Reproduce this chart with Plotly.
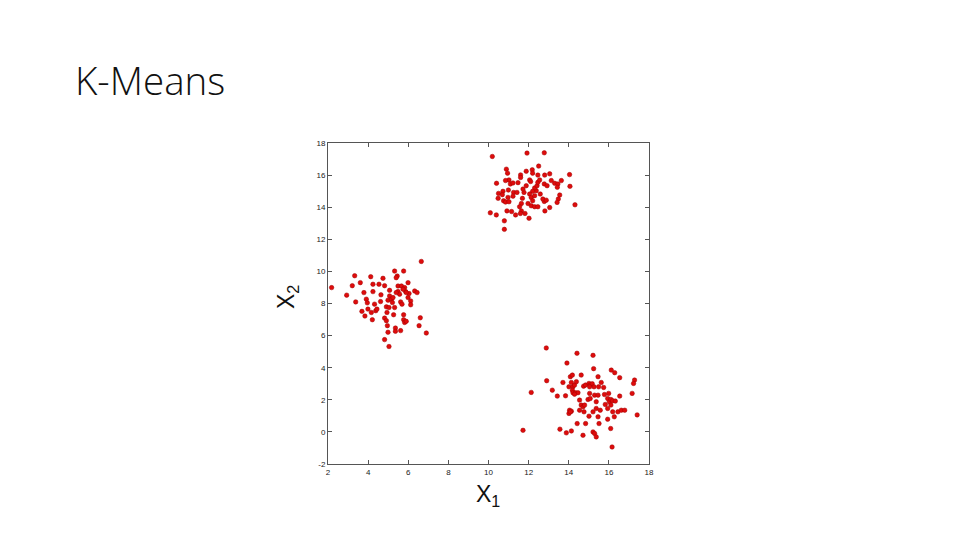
import plotly.graph_objects as go

# Top cluster
x_top = [10.19, 11.92, 12.78, 12.5, 10.89, 10.95, 10.4, 11.02, 10.85, 11.09, 11.22, 11.47, 11.6, 11.6, 11.88,
         12.18, 12.2, 12.05, 12.1, 12.46, 12.8, 13.05, 13.13, 12.78, 12.92, 13.3, 13.46, 13.63, 13.43, 14.04,
         14.06, 13.55, 13.48, 13.42, 14.31, 13.05, 12.81, 12.78, 12.71, 12.88, 12.58, 12.38, 12.3, 12.2, 12.05,
         12.13, 12.3, 12.2, 11.97, 12.13, 12.3, 12.46, 11.64, 11.55, 11.64, 11.82, 12.02, 11.59, 11.35, 11.15,
         10.92, 10.79, 10.79, 10.39, 10.09, 10.5, 10.48, 10.72, 10.69, 10.75, 10.85, 11.02, 10.97, 10.99, 11.25,
         11.42, 11.22, 11.69, 11.77, 11.88, 11.72, 12.42, 12.46, 12.55]
y_top = [17.16, 17.37, 17.39, 16.56, 16.37, 16.12, 15.49, 15.70, 15.66, 15.45, 15.51, 15.53, 16.01, 15.85, 16.24,
         16.33, 16.12, 15.7, 15.6, 16.0, 16.0, 16.08, 15.66, 15.45, 15.34, 15.49, 15.45, 15.66, 15.24, 16.03,
         15.30, 14.76, 14.51, 14.3, 14.15, 13.98, 13.77, 14.36, 14.51, 14.44, 14.82, 15.03, 15.2, 14.99, 14.82,
         14.61, 14.72, 14.4, 14.23, 14.09, 14.03, 14.03, 14.23, 14.03, 13.77, 13.61, 13.31, 13.61, 13.52, 13.73,
         13.77, 13.15, 12.62, 13.52, 13.65, 14.86, 14.55, 14.99, 14.78, 14.4, 14.32, 14.34, 14.61, 15.07, 14.92,
         14.92, 14.69, 14.55, 14.92, 15.34, 15.13, 15.34, 15.55, 15.7]

# Left cluster
x_left = [2.18, 2.93, 3.21, 3.33, 3.38, 3.61, 3.69, 3.79, 3.84, 3.91, 3.96, 3.99, 4.13, 4.21, 4.24, 4.24, 4.16,
          4.32, 4.38, 4.44, 4.54, 4.74, 4.64, 4.62, 4.82, 4.82, 4.91, 4.82, 4.96, 5.04, 4.99, 4.91, 4.94, 5.04,
          4.99, 5.07, 5.07, 5.16, 5.24, 5.21, 5.32, 5.27, 5.32, 5.45, 5.4, 5.49, 5.36, 5.36, 5.49, 5.62, 5.62,
          5.69, 5.66, 5.77, 5.82, 5.77, 5.77, 5.82, 5.9, 5.87, 5.99, 5.99, 6.04, 6.12, 6.12, 6.32, 6.44, 6.54,
          6.6, 6.65, 6.9, 5.74, 5.9, 5.57, 5.4]
y_left = [8.99, 8.52, 9.11, 9.73, 8.1, 9.3, 7.51, 8.68, 7.22, 8.27, 8.04, 7.65, 9.67, 6.99, 9.2, 8.74, 7.44,
          7.96, 7.55, 7.65, 9.2, 9.57, 8.54, 8.12, 9.11, 7.09, 6.93, 5.75, 6.62, 5.32, 6.21, 7.79, 7.44, 7.75,
          8.21, 8.47, 8.82, 8.27, 8.37, 8.06, 7.75, 7.3, 10.02, 9.71, 9.61, 9.09, 6.47, 6.27, 8.74, 8.1, 6.31,
          7.96, 9.09, 10.02, 8.99, 7.3, 6.99, 6.82, 6.89, 8.74, 9.3, 8.37, 8.62, 8.16, 7.92, 8.78, 8.68, 6.62,
          7.11, 10.62, 6.16, 8.89, 8.68, 8.58, 8.68]

# Bottom-right cluster
x_br = [12.88, 14.41, 15.21, 13.91, 15.24, 16.12, 16.29, 16.54, 17.28, 17.23, 12.9, 12.13, 13.18, 13.43, 13.71,
        13.84, 14.08, 14.18, 14.13, 14.01, 14.21, 14.29, 14.38, 14.62, 14.18, 14.21, 14.34, 14.46, 14.29, 14.74,
        14.84, 15.01, 15.07, 15.17, 15.26, 15.46, 15.62, 15.74, 15.49, 15.04, 14.54, 14.62, 14.71, 14.54, 14.76,
        14.96, 15.07, 15.29, 15.46, 15.37, 15.37, 15.21, 15.57, 15.46, 15.01, 15.78, 15.99, 15.94, 15.82, 16.02,
        16.1, 16.19, 16.32, 15.94, 16.1, 16.19, 16.27, 15.94, 16.45, 16.62, 16.79, 16.54, 17.16, 17.41, 14.04,
        14.13, 14.01, 14.08, 14.42, 14.84, 15.51, 13.56, 13.88, 14.13, 14.71, 15.21, 15.29, 15.37, 16.09, 16.16,
        11.72, 14.79, 15.04]
y_br = [5.23, 4.9, 4.77, 4.29, 3.94, 3.85, 3.69, 3.38, 3.23, 3.02, 3.19, 2.46, 2.6, 2.23, 3.08,
        2.25, 3.44, 3.54, 3.08, 2.81, 2.81, 2.92, 3.13, 3.54, 2.6, 2.44, 2.44, 2.44, 2.35, 2.85,
        2.92, 3.02, 2.92, 3.0, 2.81, 3.44, 3.08, 2.77, 2.81, 2.81, 1.98, 1.67, 1.56, 1.35, 1.25,
        2.02, 2.08, 2.29, 2.29, 1.88, 1.46, 1.25, 1.35, 0.94, 0.98, 2.33, 2.4, 2.08, 1.71, 1.88,
        2.02, 1.94, 1.92, 1.46, 1.67, 1.25, 0.94, 0.79, 1.25, 1.35, 1.35, 2.23, 2.4, 1.06, 1.35,
        1.29, 1.15, 1.25, 0.52, 0.52, 0.52, 0.17, -0.06, 0.06, -0.21, 0.0, -0.1, -0.31, 0.21, -0.94,
        0.1, 1.67, 2.4]

x_ticks = [2, 4, 6, 8, 10, 12, 14, 16, 18]
y_ticks = [-2, 0, 2, 4, 6, 8, 10, 12, 14, 16, 18]

xs = x_top + x_left + x_br
ys = y_top + y_left + y_br

fig = go.Figure()
fig.add_trace(go.Scatter(
    x=xs, y=ys, mode="markers",
    marker=dict(size=4.5, color="rgb(222,12,12)", line=dict(width=0.5, color="rgb(160,0,0)")),
    showlegend=False, hoverinfo="skip",
))

axis_common = dict(
    showgrid=False, zeroline=False, showline=True, mirror="ticks", automargin=False,
    linecolor="#555", linewidth=1, ticks="inside", ticklen=4, tickcolor="#555",
    tickfont=dict(family="Liberation Sans, Arial, sans-serif", size=8, color="#222"),
)

OFF = 8  # page body margin in the browser
L, R, T, B = 328.3 - OFF, 649.3 - OFF, 142.7 - OFF, 463.7 - OFF
PW = R - L
PH = B - T

def px_x(p):
    return (p - OFF - L) / PW

def px_y(p):
    return (B - (p - OFF)) / PH

title_font = dict(family="Liberation Sans, Arial, sans-serif", size=23, color="#111")

fig.update_layout(
    width=960, height=540,
    paper_bgcolor="white", plot_bgcolor="white",
    margin=dict(l=L, r=960 - R, t=T, b=540 - B, autoexpand=False),
    xaxis=dict(range=[2, 18], tickvals=x_ticks, ticktext=[str(v) for v in x_ticks], **axis_common),
    yaxis=dict(range=[-2, 18], tickvals=y_ticks, ticktext=[str(v) for v in y_ticks], **axis_common),
    annotations=[
        dict(text="K-Means", xref="paper", yref="paper", x=px_x(73), y=px_y(80),
             xanchor="left", yanchor="middle", showarrow=False,
             font=dict(family="Open Sans, sans-serif", size=38.5, color="#111", weight=300)),
        dict(text="X<sub>1</sub>", xref="paper", yref="paper", x=px_x(488), y=px_y(495),
             xanchor="center", yanchor="middle", showarrow=False, font=title_font),
        dict(text="X<sub>2</sub>", xref="paper", yref="paper", x=px_x(288), y=px_y(297),
             xanchor="center", yanchor="middle", showarrow=False, textangle=-90, font=title_font),
    ],
)

fig.write_html("out.html")
